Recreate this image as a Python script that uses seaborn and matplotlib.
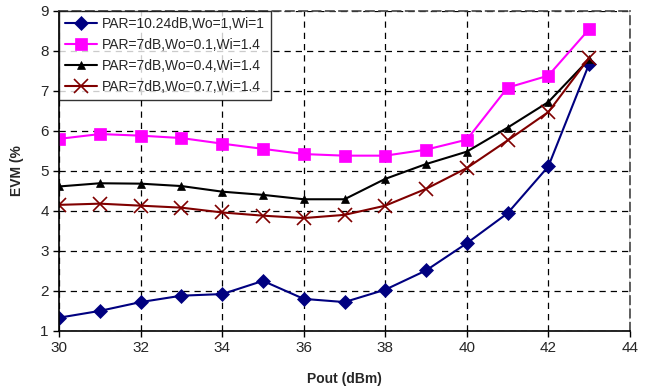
import matplotlib
matplotlib.use("Agg")
import matplotlib.pyplot as plt
import seaborn as sns
import pandas as pd

pout = [30, 31, 32, 33, 34, 35, 36, 37, 38, 39, 40, 41, 42, 43]
evm_par1024 = [1.33, 1.50, 1.72, 1.88, 1.92, 2.25, 1.80, 1.72, 2.03, 2.51, 3.19, 3.94, 5.11, 7.67]
evm_wo01 = [5.80, 5.92, 5.88, 5.82, 5.68, 5.55, 5.42, 5.38, 5.38, 5.53, 5.78, 7.08, 7.38, 8.54]
evm_wo04 = [4.61, 4.69, 4.68, 4.62, 4.48, 4.40, 4.29, 4.29, 4.80, 5.17, 5.48, 6.08, 6.72, 7.79]
evm_wo07 = [4.15, 4.18, 4.13, 4.08, 3.96, 3.88, 3.82, 3.90, 4.13, 4.55, 5.07, 5.76, 6.47, 7.82]
labels = ["PAR=10.24dB,Wo=1,Wi=1", "PAR=7dB,Wo=0.1,Wi=1.4",
          "PAR=7dB,Wo=0.4,Wi=1.4", "PAR=7dB,Wo=0.7,Wi=1.4"]
xticks = [30, 32, 34, 36, 38, 40, 42, 44]
yticks = [1, 2, 3, 4, 5, 6, 7, 8, 9]

sns.set_style("white")
plt.rcParams['font.family'] = ['Liberation Sans', 'DejaVu Sans']

series = [evm_par1024, evm_wo01, evm_wo04, evm_wo07]
colors = ["#000080", "#FF00FF", "#000000", "#800000"]
markers = ["D", "s", "^", "x"]
msizes = [7.5, 9, 6, 10]

fig, ax = plt.subplots(figsize=(6.5, 3.87), dpi=100)
fig.subplots_adjust(left=0.091, right=0.969, top=0.972, bottom=0.145)

for vals, lab, c, m, ms in zip(series, labels, colors, markers, msizes):
    df = pd.DataFrame({"x": pout, "y": vals})
    sns.lineplot(data=df, x="x", y="y", ax=ax, color=c, marker=m, markersize=ms,
                 markeredgecolor=c, markeredgewidth=1.2 if m == "x" else 0.5,
                 linewidth=1.5, label=lab, sort=False)

ax.set_xlim(30, 44)
ax.set_ylim(1, 9)
ax.set_xticks(xticks)
ax.set_yticks(yticks)
ax.tick_params(axis="both", labelsize=11, direction="out", length=4, width=1, color="black",
               bottom=True, left=True)
ax.grid(True, color="black", linestyle=(0, (5, 4)), linewidth=0.9)
for s in ["left", "bottom"]:
    ax.spines[s].set_color("black")
    ax.spines[s].set_linewidth(1.2)
for s in ["top", "right"]:
    ax.spines[s].set_color("#444444")
    ax.spines[s].set_linewidth(1.2)
    ax.spines[s].set_linestyle((0, (5, 3)))

ax.set_xlabel("Pout (dBm)", fontsize=10, fontweight="bold", labelpad=12)
ax.set_ylabel("EVM (%", fontsize=10, fontweight="bold", labelpad=12)

leg = ax.legend(loc="upper left", bbox_to_anchor=(0.0, 1.0), fontsize=10, frameon=True,
                fancybox=False, edgecolor="black", borderpad=0.45, labelspacing=0.5,
                handlelength=2.3, handletextpad=0.3, borderaxespad=0.0)
leg.get_frame().set_linewidth(1.0)

fig.savefig("out.png", dpi=100, facecolor="white")
